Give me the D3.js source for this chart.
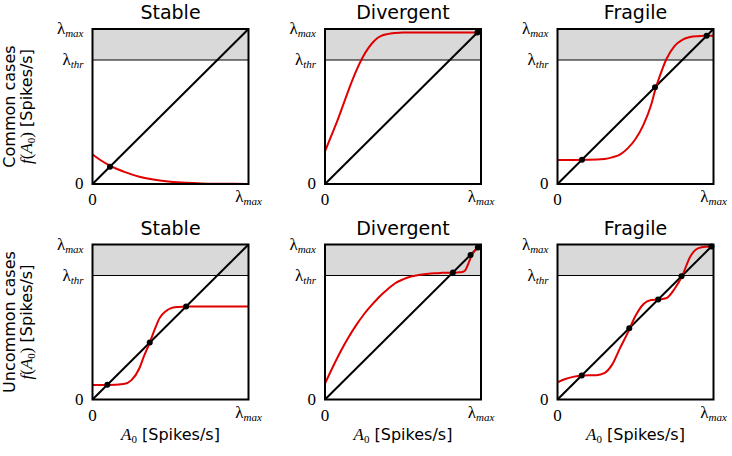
<html>
<head>
<script src="https://d3js.org/d3.v7.min.js"></script>
<style>
body { margin: 0; background: #fff; }
</style>
</head>
<body>
<div id="chart"></div>
<script>
const red = "#e00000";
const shade = "#d9d9d9";

const titles = ["Stable", "Divergent", "Fragile"];
const rowLabels = ["Common cases", "Uncommon cases"];
const lambdaThr = 0.8;

// common cases
const stableCommonX = [0, 0.05, 0.1, 0.15, 0.2, 0.3, 0.4, 0.5, 0.6, 0.7, 0.8, 0.9, 1];
const stableCommonY = [0.19, 0.155, 0.125, 0.1, 0.08, 0.047, 0.027, 0.015, 0.008, 0.004, 0.002, 0.001, 0.0005];
const stableCommonFixed = [0.112];

const divergentCommonX = [0, 0.04, 0.08, 0.12, 0.16, 0.2, 0.24, 0.28, 0.32, 0.36, 0.4, 0.45, 0.5, 0.6, 0.8, 1];
const divergentCommonY = [0.21, 0.31, 0.41, 0.52, 0.63, 0.73, 0.815, 0.88, 0.928, 0.955, 0.967, 0.974, 0.977, 0.978, 0.978, 0.978];
const divergentCommonFixed = [0.977];

const fragileCommonX = [0, 0.1, 0.2, 0.3, 0.35, 0.4, 0.45, 0.5, 0.55, 0.6, 0.63, 0.65, 0.7, 0.75, 0.8, 0.85, 0.9, 0.95, 1];
const fragileCommonY = [0.155, 0.155, 0.156, 0.162, 0.172, 0.19, 0.23, 0.29, 0.38, 0.51, 0.62, 0.68, 0.81, 0.89, 0.93, 0.948, 0.954, 0.956, 0.957];
const fragileCommonFixed = [0.157, 0.625, 0.956];

// uncommon cases
const stableUncommonX = [0, 0.1, 0.2, 0.25, 0.3, 0.33, 0.367, 0.4, 0.43, 0.47, 0.5, 0.55, 0.6, 0.7, 0.8, 0.9, 1];
const stableUncommonY = [0.093, 0.093, 0.1, 0.125, 0.2, 0.28, 0.367, 0.455, 0.525, 0.57, 0.588, 0.597, 0.6, 0.6, 0.6, 0.6, 0.6];
const stableUncommonFixed = [0.095, 0.367, 0.6];

const divergentUncommonX = [0, 0.05, 0.1, 0.15, 0.2, 0.25, 0.3, 0.35, 0.4, 0.45, 0.5, 0.55, 0.6, 0.65, 0.7, 0.75, 0.8, 0.85, 0.88, 0.9, 0.92, 0.94, 0.96, 0.98, 1];
const divergentUncommonY = [0.103, 0.21, 0.31, 0.4, 0.48, 0.55, 0.61, 0.665, 0.71, 0.75, 0.775, 0.793, 0.803, 0.81, 0.815, 0.817, 0.818, 0.82, 0.823, 0.835, 0.88, 0.93, 0.96, 0.978, 0.99];
const divergentUncommonFixed = [0.82, 0.933, 0.98];

const fragileUncommonX = [0, 0.05, 0.1, 0.15, 0.2, 0.25, 0.3, 0.35, 0.4, 0.45, 0.5, 0.55, 0.6, 0.65, 0.7, 0.75, 0.8, 0.85, 0.9, 0.95, 1];
const fragileUncommonY = [0.11, 0.132, 0.146, 0.153, 0.156, 0.157, 0.17, 0.225, 0.33, 0.43, 0.54, 0.615, 0.642, 0.645, 0.655, 0.713, 0.8, 0.92, 0.975, 0.986, 0.987];
const fragileUncommonFixed = [0.155, 0.46, 0.645, 0.795, 0.987];

const panels = [
  { row: 0, col: 0, xs: stableCommonX, ys: stableCommonY, fixed: stableCommonFixed },
  { row: 0, col: 1, xs: divergentCommonX, ys: divergentCommonY, fixed: divergentCommonFixed },
  { row: 0, col: 2, xs: fragileCommonX, ys: fragileCommonY, fixed: fragileCommonFixed },
  { row: 1, col: 0, xs: stableUncommonX, ys: stableUncommonY, fixed: stableUncommonFixed },
  { row: 1, col: 1, xs: divergentUncommonX, ys: divergentUncommonY, fixed: divergentUncommonFixed },
  { row: 1, col: 2, xs: fragileUncommonX, ys: fragileUncommonY, fixed: fragileUncommonFixed }
];

const W = 732, H = 456;
const pw = 156, ph = 155;
const lefts = [92.5, 325, 557.5];
const tops = [29, 244.5];

var svg = d3.select("#chart").append("svg")
  .attr("width", W)
  .attr("height", H);

var x = d3.scaleLinear().domain([0, 1]).range([0, pw]);
var y = d3.scaleLinear().domain([0, 1]).range([ph, 0]);

var line = d3.line()
  .x(function(d) { return x(d[0]); })
  .y(function(d) { return y(d[1]); })
  .curve(d3.curveMonotoneX);

// lambda label with subscript
function lambdaLabel(sel, sub) {
  sel.attr("font-family", "'Liberation Serif', serif");
  sel.append("tspan").attr("font-size", "17px").text("λ");
  sel.append("tspan").attr("font-size", "11px").attr("font-style", "italic")
     .attr("dy", 3).text(sub);
}

panels.forEach(function(p) {
  var g = svg.append("g")
    .attr("transform", "translate(" + lefts[p.col] + "," + tops[p.row] + ")");

  // shaded region above threshold
  g.append("rect")
    .attr("x", x(0)).attr("y", y(1))
    .attr("width", x(1) - x(0))
    .attr("height", y(lambdaThr) - y(1))
    .attr("fill", shade);

  g.append("line")
    .attr("x1", x(0)).attr("x2", x(1))
    .attr("y1", y(lambdaThr)).attr("y2", y(lambdaThr))
    .attr("stroke", "#000").attr("stroke-width", 1);

  // identity line
  g.append("line")
    .attr("x1", x(0)).attr("y1", y(0))
    .attr("x2", x(1)).attr("y2", y(1))
    .attr("stroke", "#000").attr("stroke-width", 2);

  g.append("path")
    .datum(d3.zip(p.xs, p.ys))
    .attr("d", line)
    .attr("fill", "none")
    .attr("stroke", red)
    .attr("stroke-width", 2);

  g.selectAll("circle")
    .data(p.fixed)
    .enter()
    .append("circle")
    .attr("cx", function(d) { return x(d); })
    .attr("cy", function(d) { return y(d); })
    .attr("r", 3)
    .attr("fill", "#000");

  // frame
  g.append("rect")
    .attr("x", x(0)).attr("y", y(1))
    .attr("width", x(1) - x(0))
    .attr("height", y(0) - y(1))
    .attr("fill", "none")
    .attr("stroke", "#000")
    .attr("stroke-width", 2);

  // title
  g.append("text")
    .attr("x", (x(0) + x(1)) / 2)
    .attr("y", -10)
    .attr("text-anchor", "middle")
    .attr("font-family", "'DejaVu Sans', sans-serif")
    .attr("font-size", "19px")
    .attr("fill", "#000")
    .text(titles[p.col]);

  // y ticks
  g.append("text").attr("x", -9).attr("y", y(1) + 5).attr("text-anchor", "end")
    .call(lambdaLabel, "max");
  g.append("text").attr("x", -9).attr("y", y(lambdaThr) + 5).attr("text-anchor", "end")
    .call(lambdaLabel, "thr");
  g.append("text").attr("x", -9).attr("y", y(0) + 5).attr("text-anchor", "end")
    .attr("font-family", "'Liberation Serif', serif").attr("font-size", "17px")
    .text("0");

  // x ticks
  g.append("text").attr("x", x(0)).attr("y", y(0) + 21).attr("text-anchor", "middle")
    .attr("font-family", "'Liberation Serif', serif").attr("font-size", "17px")
    .text("0");
  g.append("text").attr("x", x(1)).attr("y", y(0) + 18).attr("text-anchor", "middle")
    .call(lambdaLabel, "max");

  if (p.row === 1) {
    var xl = g.append("text")
      .attr("x", (x(0) + x(1)) / 2)
      .attr("y", y(0) + 40)
      .attr("text-anchor", "middle")
      .attr("font-size", "16px")
      .attr("font-family", "'DejaVu Sans', sans-serif");
    xl.append("tspan").attr("font-family", "'Liberation Serif', serif").attr("font-style", "italic").attr("font-size", "17px").text("A");
    xl.append("tspan").attr("font-family", "'Liberation Serif', serif").attr("font-size", "11px").attr("dy", 3).text("0");
    xl.append("tspan").attr("dy", -3).text(" [Spikes/s]");
  }

  if (p.col === 0) {
    var cy = (y(0) + y(1)) / 2;
    g.append("text")
      .attr("transform", "translate(" + (15 - lefts[0]) + "," + cy + ") rotate(-90)")
      .attr("text-anchor", "middle")
      .attr("font-family", "'DejaVu Sans', sans-serif")
      .attr("font-size", "16px")
      .text(rowLabels[p.row]);
    var fl = g.append("text")
      .attr("transform", "translate(" + (32 - lefts[0]) + "," + cy + ") rotate(-90)")
      .attr("text-anchor", "middle")
      .attr("font-family", "'DejaVu Sans', sans-serif")
      .attr("font-size", "16px");
    fl.append("tspan").attr("font-family", "'Liberation Serif', serif").attr("font-style", "italic").attr("font-size", "17px").text("f");
    fl.append("tspan").attr("font-family", "'Liberation Serif', serif").attr("font-size", "17px").text("(");
    fl.append("tspan").attr("font-family", "'Liberation Serif', serif").attr("font-style", "italic").attr("font-size", "17px").text("A");
    fl.append("tspan").attr("font-family", "'Liberation Serif', serif").attr("font-size", "11px").attr("dy", 3).text("0");
    fl.append("tspan").attr("font-family", "'Liberation Serif', serif").attr("font-size", "17px").attr("dy", -3).text(")");
    fl.append("tspan").text(" [Spikes/s]");
  }
});
</script>
</body>
</html>
